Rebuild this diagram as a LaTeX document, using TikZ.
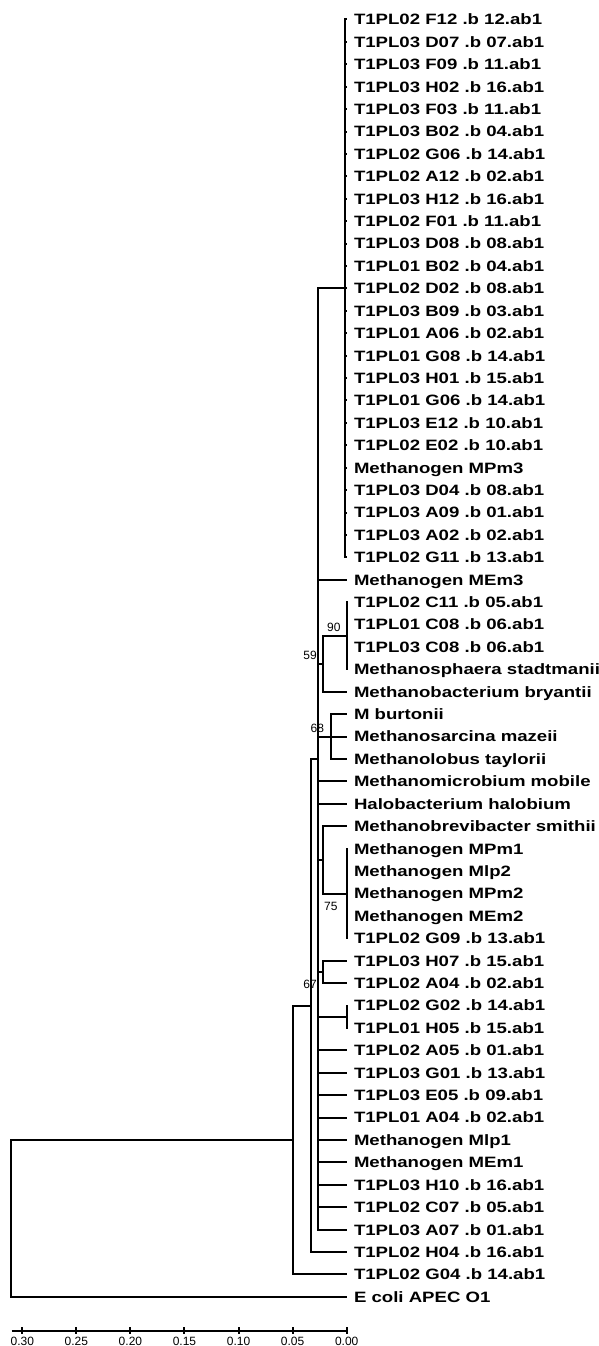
\documentclass[tikz,border=0pt]{standalone}
\usepackage{fontspec}
\setmainfont{Liberation Sans}
\newfontfamily\leaffont{Liberation Sans}[FakeStretch=1.24]
\usetikzlibrary{positioning,calc}

\begin{document}
\begin{tikzpicture}[
  x=1pt, y=-1pt,
  line width=2pt,
  myleaf/.style={
    anchor=west,
    inner xsep=6pt,
    inner ysep=0pt,
    text height=10.7pt,
    text depth=0pt,
    font=\leaffont\bfseries\fontsize{15}{18}\selectfont
    },
  myboot/.style={
    inner sep=0pt,
    font=\fontsize{12}{14}\selectfont
    },
  mytick/.style={
    inner sep=0pt,
    anchor=north,
    font=\fontsize{12}{14}\selectfont
    }
]
\useasboundingbox (0,0) rectangle (599,1346);

% leaves
\foreach \i/\t in {
  0/{T1PL02 F12 .b 12.ab1}, 1/{T1PL03 D07 .b 07.ab1}, 2/{T1PL03 F09 .b 11.ab1},
  3/{T1PL03 H02 .b 16.ab1}, 4/{T1PL03 F03 .b 11.ab1}, 5/{T1PL03 B02 .b 04.ab1},
  6/{T1PL02 G06 .b 14.ab1}, 7/{T1PL02 A12 .b 02.ab1}, 8/{T1PL03 H12 .b 16.ab1},
  9/{T1PL02 F01 .b 11.ab1}, 10/{T1PL03 D08 .b 08.ab1}, 11/{T1PL01 B02 .b 04.ab1},
  12/{T1PL02 D02 .b 08.ab1}, 13/{T1PL03 B09 .b 03.ab1}, 14/{T1PL01 A06 .b 02.ab1},
  15/{T1PL01 G08 .b 14.ab1}, 16/{T1PL03 H01 .b 15.ab1}, 17/{T1PL01 G06 .b 14.ab1},
  18/{T1PL03 E12 .b 10.ab1}, 19/{T1PL02 E02 .b 10.ab1}, 20/{Methanogen MPm3},
  21/{T1PL03 D04 .b 08.ab1}, 22/{T1PL03 A09 .b 01.ab1}, 23/{T1PL03 A02 .b 02.ab1},
  24/{T1PL02 G11 .b 13.ab1}, 25/{Methanogen MEm3}, 26/{T1PL02 C11 .b 05.ab1},
  27/{T1PL01 C08 .b 06.ab1}, 28/{T1PL03 C08 .b 06.ab1}, 29/{Methanosphaera stadtmanii},
  30/{Methanobacterium bryantii}, 31/{M burtonii}, 32/{Methanosarcina mazeii},
  33/{Methanolobus taylorii}, 34/{Methanomicrobium mobile}, 35/{Halobacterium halobium},
  36/{Methanobrevibacter smithii}, 37/{Methanogen MPm1}, 38/{Methanogen Mlp2},
  39/{Methanogen MPm2}, 40/{Methanogen MEm2}, 41/{T1PL02 G09 .b 13.ab1},
  42/{T1PL03 H07 .b 15.ab1}, 43/{T1PL02 A04 .b 02.ab1}, 44/{T1PL02 G02 .b 14.ab1},
  45/{T1PL01 H05 .b 15.ab1}, 46/{T1PL02 A05 .b 01.ab1}, 47/{T1PL03 G01 .b 13.ab1},
  48/{T1PL03 E05 .b 09.ab1}, 49/{T1PL01 A04 .b 02.ab1}, 50/{Methanogen Mlp1},
  51/{Methanogen MEm1}, 52/{T1PL03 H10 .b 16.ab1}, 53/{T1PL02 C07 .b 05.ab1},
  54/{T1PL03 A07 .b 01.ab1}, 55/{T1PL02 H04 .b 16.ab1}, 56/{T1PL02 G04 .b 14.ab1},
  57/{E coli APEC O1}}
  \node [myleaf] (l\i) at (347,{19.5+22.41*\i}) {\t};

% inner nodes
\coordinate (nF) at (345,288.4);
\coordinate (nH) at (346.5,635.8);
\coordinate (nG) at (322.7,663.8);
\coordinate (nI) at (331,736.6);
\coordinate (nJ) at (346.5,893.5);
\coordinate (nE) at (322.7,859.9);
\coordinate (nK) at (322.7,971.9);
\coordinate (nL) at (346.5,1016.7);
\coordinate (nC) at (318.3,759);
\coordinate (nB) at (311,1005.5);
\coordinate (nA) at (293.3,1140);
\coordinate (nR) at (10.7,1218.5);

% branches
\foreach \i in {0,...,24} \draw (nF) |- (l\i.west);
\foreach \i in {26,...,29} \draw (nH) |- (l\i.west);
\foreach \i in {31,32,33} \draw (nI) |- (l\i.west);
\foreach \i in {37,...,41} \draw (nJ) |- (l\i.west);
\foreach \i in {42,43} \draw (nK) |- (l\i.west);
\foreach \i in {44,45} \draw (nL) |- (l\i.west);
\draw (nG) |- (nH);
\draw (nG) |- (l30.west);
\draw (nE) |- (l36.west);
\draw (nE) |- (nJ);
\foreach \n in {nF,nG,nI,nE,nK,nL} \draw (nC) |- (\n);
\foreach \i in {25,34,35,46,47,48,49,50,51,52,53,54} \draw (nC) |- (l\i.west);
\draw (nB) |- (nC);
\draw (nB) |- (l55.west);
\draw (nA) |- (nB);
\draw (nA) |- (l56.west);
\draw (nR) |- (nA);
\draw (nR) |- (l57.west);

% bootstrap values
\node [myboot, left=5pt of nH, yshift=8pt] (b90) {90};
\node [myboot, left=5pt of nG, yshift=8pt] (b59) {59};
\node [myboot, left=6pt of nI, yshift=8.5pt] (b68) {68};
\node [myboot, left=8pt of nJ, yshift=-12.5pt] (b75) {75};
\node [myboot, left=5pt of nK, yshift=-12pt] (b67) {67};

% scale
\coordinate (s0) at (11.7,1330.7);
\coordinate (s1) at (346.7,1330.7);
\draw (s0) -- (s1);
\foreach \k/\v in {0/0.00,1/0.05,2/0.10,3/0.15,4/0.20,5/0.25,6/0.30} {
  \coordinate (t\k) at ({346.7-54.07*\k},1330.7);
  \draw ([yshift=3.7pt]t\k) -- ([yshift=-3.3pt]t\k);
  \node [mytick] (v\k) at ([yshift=-5pt]t\k) {\v};
}
\end{tikzpicture}
\end{document}
